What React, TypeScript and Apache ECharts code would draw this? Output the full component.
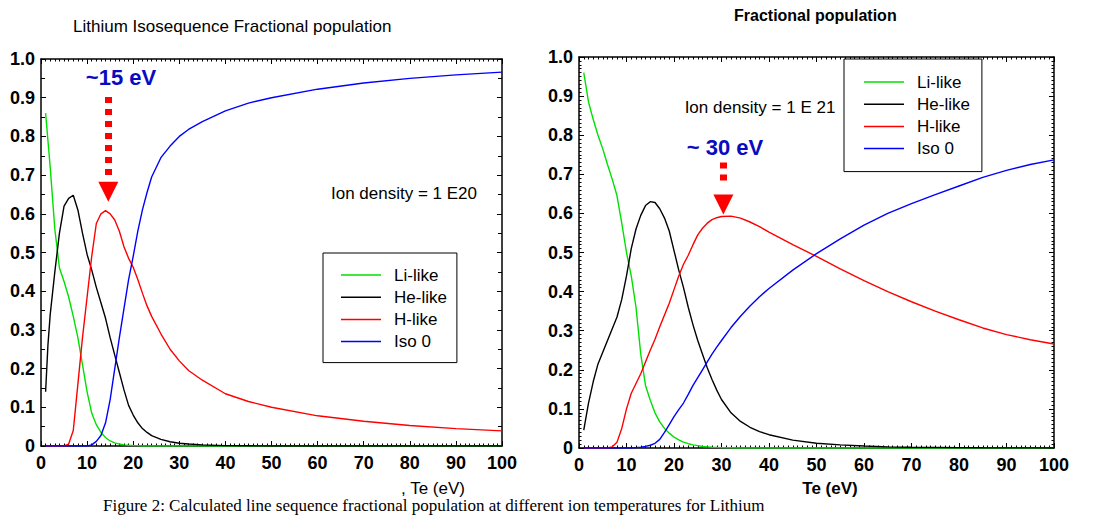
import React, { useEffect, useRef } from "react";
import * as echarts from "echarts";

// ---------- DATA ----------
const seriesNames = ["Li-like", "He-like", "H-like", "Iso 0"];
const seriesColors = ["#00e000", "#000000", "#ff0000", "#0000ff"];
const yTickLabels = ["0", "0.1", "0.2", "0.3", "0.4", "0.5", "0.6", "0.7", "0.8", "0.9", "1.0"];

// Left chart: ion density 1E20
const leftTe = [1, 1.5, 2, 3, 4, 5, 6, 7, 8, 9, 10, 11, 12, 13, 14, 15, 16, 17, 18, 19, 20, 21, 22, 23, 24, 26, 28, 30, 32, 35, 40, 45, 50, 60, 70, 80, 90, 100];
const leftLi = [0.86, 0.79, 0.72, 0.56, 0.46, 0.425, 0.385, 0.335, 0.28, 0.21, 0.14, 0.085, 0.055, 0.035, 0.022, 0.013, 0.008, 0.005, 0.003, 0.002, 0.001, 0.001, 0, 0, 0, 0, 0, 0, 0, 0, 0, 0, 0, 0, 0, 0, 0, 0];
const leftHe = [0.14, 0.26, 0.34, 0.45, 0.55, 0.62, 0.64, 0.648, 0.61, 0.55, 0.495, 0.455, 0.41, 0.37, 0.33, 0.28, 0.235, 0.19, 0.145, 0.105, 0.08, 0.06, 0.045, 0.035, 0.027, 0.017, 0.011, 0.007, 0.005, 0.003, 0.001, 0.0005, 0, 0, 0, 0, 0, 0];
const leftH = [0, 0, 0, 0, 0, 0, 0.005, 0.04, 0.16, 0.28, 0.385, 0.49, 0.575, 0.6, 0.608, 0.6, 0.584, 0.555, 0.515, 0.485, 0.462, 0.43, 0.395, 0.362, 0.335, 0.29, 0.25, 0.22, 0.195, 0.17, 0.135, 0.115, 0.1, 0.078, 0.064, 0.053, 0.045, 0.039];
const leftIso = [0, 0, 0, 0, 0, 0, 0, 0, 0, 0, 0, 0.003, 0.012, 0.027, 0.06, 0.12, 0.2, 0.28, 0.355, 0.43, 0.49, 0.555, 0.61, 0.655, 0.695, 0.745, 0.775, 0.8, 0.818, 0.838, 0.866, 0.886, 0.9, 0.922, 0.938, 0.95, 0.959, 0.966];

// Right chart: ion density 1E21
const rightTe = [1, 2, 3, 4, 5, 6, 7, 8, 9, 10, 11, 12, 13, 14, 15, 16, 17, 18, 19, 20, 21, 22, 23, 24, 25, 26, 27, 28, 29, 30, 32, 34, 36, 38, 40, 45, 50, 55, 60, 65, 70, 75, 80, 85, 90, 95, 100];
const rightLi = [0.96, 0.885, 0.84, 0.8, 0.765, 0.725, 0.687, 0.645, 0.575, 0.5, 0.44, 0.36, 0.24, 0.16, 0.122, 0.09, 0.067, 0.05, 0.038, 0.028, 0.021, 0.015, 0.011, 0.008, 0.006, 0.004, 0.003, 0.002, 0.0015, 0.001, 0.0005, 0, 0, 0, 0, 0, 0, 0, 0, 0, 0, 0, 0, 0, 0, 0, 0];
const rightHe = [0.046, 0.115, 0.17, 0.215, 0.245, 0.275, 0.305, 0.335, 0.38, 0.44, 0.51, 0.56, 0.595, 0.62, 0.63, 0.628, 0.612, 0.588, 0.555, 0.505, 0.455, 0.41, 0.36, 0.315, 0.275, 0.24, 0.205, 0.175, 0.148, 0.124, 0.09, 0.068, 0.053, 0.042, 0.034, 0.02, 0.012, 0.008, 0.005, 0.003, 0.002, 0.0015, 0.001, 0.0005, 0.0003, 0.0002, 0];
const rightH = [0, 0, 0, 0, 0, 0, 0.003, 0.015, 0.05, 0.1, 0.14, 0.165, 0.19, 0.22, 0.25, 0.278, 0.31, 0.34, 0.37, 0.405, 0.44, 0.47, 0.493, 0.52, 0.545, 0.562, 0.575, 0.584, 0.589, 0.592, 0.593, 0.588, 0.578, 0.566, 0.552, 0.52, 0.49, 0.458, 0.428, 0.4, 0.374, 0.35, 0.328, 0.307, 0.29, 0.277, 0.266];
const rightIso = [0, 0, 0, 0, 0, 0, 0, 0, 0, 0, 0, 0.001, 0.002, 0.004, 0.007, 0.012, 0.022, 0.04, 0.06, 0.08, 0.098, 0.115, 0.137, 0.16, 0.18, 0.2, 0.22, 0.24, 0.258, 0.275, 0.308, 0.337, 0.363, 0.387, 0.408, 0.455, 0.497, 0.535, 0.57, 0.6, 0.625, 0.648, 0.67, 0.692, 0.71, 0.725, 0.737];

// Annotation arrows (Te, fraction)
const leftArrow = { te: 14.6, from: 0.902, to: 0.7, head: 0.657 };
const rightArrow = { te: 30.4, from: 0.73, to: 0.679, head: 0.623 };

const FONT = "'Liberation Sans', Arial, Helvetica, sans-serif";

function pairs(xs: number[], ys: number[]) {
  return xs.map((x, i) => [x, ys[i]]);
}

function axesFor(gridIndex: number, yMinorSplit: number) {
  const lineStyle = { color: "#000", width: 1.5 };
  const xBottom = {
    type: "value",
    gridIndex,
    position: "bottom",
    min: 0,
    max: 100,
    interval: 10,
    axisLine: { show: true, onZero: false, lineStyle },
    axisTick: { show: true, inside: true, length: 5, lineStyle: { color: "#000", width: 1 } },
    minorTick: { show: true, splitNumber: 10, length: 2.5, lineStyle: { color: "#000", width: 1 } },
    splitLine: { show: false },
    axisLabel: { show: true, color: "#000", fontFamily: FONT, fontWeight: "bold", fontSize: 18, margin: 8 },
  };
  const xTop = {
    ...xBottom,
    position: "top",
    axisLabel: { show: false },
  };
  const yLeft = {
    type: "value",
    gridIndex,
    position: "left",
    min: 0,
    max: 1,
    interval: 0.1,
    axisLine: { show: true, onZero: false, lineStyle },
    axisTick: { show: true, inside: true, length: 5, lineStyle: { color: "#000", width: 1 } },
    minorTick: { show: true, splitNumber: yMinorSplit, length: yMinorSplit > 2 ? 2.5 : 4, lineStyle: { color: "#000", width: 1 } },
    splitLine: { show: false },
    axisLabel: {
      show: true,
      color: "#000",
      fontFamily: FONT,
      fontWeight: "bold",
      fontSize: 18,
      margin: 6,
      formatter: (v: number) => yTickLabels[Math.round(v * 10)],
    },
  };
  const yRight = {
    ...yLeft,
    position: "right",
    axisLabel: { show: false },
  };
  return { x: [xBottom, xTop], y: [yLeft, yRight] };
}

function lineSeries(name: string, color: string, xIndex: number, yIndex: number, data: number[][], extra: any = {}) {
  return {
    type: "line",
    name,
    xAxisIndex: xIndex,
    yAxisIndex: yIndex,
    data,
    showSymbol: false,
    symbol: "none",
    smooth: false,
    color,
    lineStyle: { color, width: 1.4 },
    itemStyle: { color },
    silent: true,
    z: 3,
    ...extra,
  };
}

function arrowExtras(a: { te: number; from: number; to: number; head: number }) {
  return {
    markLine: {
      silent: true,
      symbol: ["none", "none"],
      label: { show: false },
      lineStyle: { color: "#ff0000", width: 7, type: [6, 6] },
      emphasis: { disabled: true },
      data: [[{ coord: [a.te, a.from] }, { coord: [a.te, a.to] }]],
      z: 5,
    },
    markPoint: {
      silent: true,
      symbol: "triangle",
      symbolSize: 20,
      symbolRotate: 180,
      label: { show: false },
      itemStyle: { color: "#ff0000" },
      data: [{ coord: [a.te, a.head] }],
      z: 5,
    },
  };
}

const legendBase = {
  orient: "vertical",
  icon: "rect",
  itemWidth: 40,
  itemHeight: 1.5,
  itemGap: 4.2,
  borderColor: "#000",
  borderWidth: 1,
  backgroundColor: "#fff",
  selectedMode: false,
  textStyle: { fontFamily: FONT, fontSize: 17, color: "#000", lineHeight: 18, padding: [0, 0, 0, 8] },
  data: seriesNames,
};

export default function App() {
  const ref = useRef<HTMLDivElement>(null);

  useEffect(() => {
    document.body.style.margin = "0";
    if (!ref.current) return;
    const chart = echarts.init(ref.current, null, { renderer: "svg" });
    const a1 = axesFor(0, 2);
    const a2 = axesFor(1, 10);

    const option: any = {
      animation: false,
      backgroundColor: "#fff",
      title: [
        {
          text: "Lithium Isosequence Fractional population",
          left: 73,
          top: 18,
          padding: 0,
          textStyle: { fontFamily: FONT, fontSize: 17, fontWeight: "normal", color: "#000" },
        },
        {
          text: "Fractional population",
          left: 734,
          top: 7,
          padding: 0,
          textStyle: { fontFamily: FONT, fontSize: 16, fontWeight: "bold", color: "#000" },
        },
      ],
      grid: [
        { left: 41, top: 59, width: 461, height: 387, show: false },
        { left: 579, top: 57, width: 475, height: 391, show: false },
      ],
      xAxis: [a1.x[0], a1.x[1], a2.x[0], a2.x[1]],
      yAxis: [a1.y[0], a1.y[1], a2.y[0], a2.y[1]],
      legend: [
        { ...legendBase, left: 323, top: 253, padding: [13, 10, 12, 18] },
        { ...legendBase, left: 844, top: 59, padding: [14, 12, 14, 20] },
      ],
      series: [
        lineSeries(seriesNames[0], seriesColors[0], 0, 0, pairs(leftTe, leftLi)),
        lineSeries(seriesNames[1], seriesColors[1], 0, 0, pairs(leftTe, leftHe)),
        lineSeries(seriesNames[2], seriesColors[2], 0, 0, pairs(leftTe, leftH), arrowExtras(leftArrow)),
        lineSeries(seriesNames[3], seriesColors[3], 0, 0, pairs(leftTe, leftIso)),
        lineSeries(seriesNames[0], seriesColors[0], 2, 2, pairs(rightTe, rightLi)),
        lineSeries(seriesNames[1], seriesColors[1], 2, 2, pairs(rightTe, rightHe)),
        lineSeries(seriesNames[2], seriesColors[2], 2, 2, pairs(rightTe, rightH), arrowExtras(rightArrow)),
        lineSeries(seriesNames[3], seriesColors[3], 2, 2, pairs(rightTe, rightIso)),
      ],
      graphic: [
        {
          type: "text",
          x: 121,
          y: 77,
          style: { text: "~15 eV", fontFamily: FONT, fontSize: 22, fontWeight: "bold", fill: "#0a0ac0", align: "center", verticalAlign: "middle" },
        },
        {
          type: "text",
          x: 725,
          y: 147,
          style: { text: "~ 30 eV", fontFamily: FONT, fontSize: 22, fontWeight: "bold", fill: "#0a0ac0", align: "center", verticalAlign: "middle" },
        },
        {
          type: "text",
          x: 404,
          y: 193,
          style: { text: "Ion density = 1 E20", fontFamily: FONT, fontSize: 17, fill: "#000", align: "center", verticalAlign: "middle" },
        },
        {
          type: "text",
          x: 760,
          y: 107,
          style: { text: "Ion density = 1 E 21", fontFamily: FONT, fontSize: 17, fill: "#000", align: "center", verticalAlign: "middle" },
        },
        {
          type: "text",
          x: 433,
          y: 488,
          style: { text: ", Te (eV)", fontFamily: FONT, fontSize: 17, fill: "#000", align: "center", verticalAlign: "middle" },
        },
        {
          type: "text",
          x: 830,
          y: 488,
          style: { text: "Te (eV)", fontFamily: FONT, fontSize: 17, fontWeight: "bold", fill: "#000", align: "center", verticalAlign: "middle" },
        },
        {
          type: "text",
          x: 103,
          y: 514,
          style: {
            text: "Figure 2: Calculated line sequence fractional population at different ion temperatures for Lithium",
            fontFamily: "'Liberation Serif', 'Times New Roman', serif",
            fontSize: 17,
            fill: "#000",
            align: "left",
            verticalAlign: "bottom",
          },
        },
      ],
    };
    chart.setOption(option);
    return () => chart.dispose();
  }, []);

  return <div ref={ref} style={{ width: 1098, height: 515 }} />;
}
